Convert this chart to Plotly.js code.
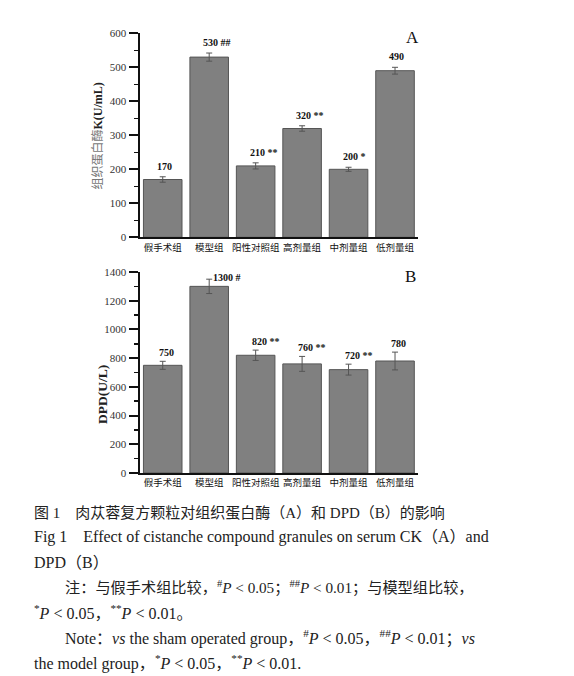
<!DOCTYPE html>
<html>
<head>
<meta charset="utf-8">
<script src="https://cdn.plot.ly/plotly-3.0.1.min.js"></script>
<style>html,body{margin:0;padding:0;background:#fff;}#chart{width:574px;height:676px;}</style>
</head>
<body>
<div id="chart"></div>
<script>
const categories = ['假手术组', '模型组', '阳性对照组', '高剂量组', '中剂量组', '低剂量组'];
const ckValues = [170, 530, 210, 320, 200, 490];
const ckErrors = [8, 12, 9, 8, 6, 10];
const ckSig = ['', '##', '**', '**', '*', ''];
const dpdValues = [750, 1300, 820, 760, 720, 780];
const dpdErrors = [28, 50, 36, 52, 38, 62];
const dpdSig = ['', '#', '**', '**', '**', ''];
const ckTicks = [0, 100, 200, 300, 400, 500, 600];
const dpdTicks = [0, 200, 400, 600, 800, 1000, 1200, 1400];

const W = 574, H = 676;
const px = v => v / W, py = v => 1 - v / H;

const barStyle = {color: '#808080', line: {color: '#555', width: 1}};
const errStyle = (arr) => ({type: 'data', array: arr, visible: true, color: '#555', thickness: 1, width: 3});

const traces = [
  {type: 'bar', x: categories, y: ckValues, xaxis: 'x', yaxis: 'y', marker: barStyle,
   error_y: errStyle(ckErrors), width: 0.83, hoverinfo: 'none'},
  {type: 'bar', x: categories, y: dpdValues, xaxis: 'x2', yaxis: 'y2', marker: barStyle,
   error_y: errStyle(dpdErrors), width: 0.83, hoverinfo: 'none'}
];

const serif = 'Liberation Serif, Noto Sans CJK SC, serif';
const tickFont = {family: serif, size: 11, color: '#333'};
const catFont = {family: 'Noto Sans CJK SC, Liberation Serif', size: 9.5, color: '#111'};

function xAx(anchor) {
  return {domain: [px(139.5), px(418.25)], anchor: anchor, range: [-0.5, 5.5],
    showline: true, linecolor: '#111', linewidth: 2, ticks: '', showgrid: false, tickangle: 0,
    tickfont: catFont, zeroline: false, fixedrange: true};
}
function yAx(anchor, dom, rng, vals, dt) {
  return {domain: dom, anchor: anchor, range: rng, tickvals: vals, ticktext: vals.map(String),
    showline: true, linecolor: '#111', linewidth: 2, ticks: 'outside', ticklen: 9, tickwidth: 2,
    tickcolor: '#111', showgrid: false, zeroline: false, tickfont: tickFont,
    minor: {dtick: dt, ticks: 'outside', ticklen: 4, tickwidth: 1.5, tickcolor: '#111', showgrid: false},
    fixedrange: true};
}

const annotations = [];
const labFont = {family: serif, size: 10, color: '#111', weight: 'bold'};
categories.forEach((c, i) => {
  annotations.push({xref: 'x', yref: 'y', x: c, y: ckValues[i] + ckErrors[i],
    text: '<b>' + ckValues[i] + (ckSig[i] ? ' ' + ckSig[i] : '') + '</b>',
    showarrow: false, xanchor: 'left', yanchor: 'bottom', xshift: -8, yshift: 3, font: labFont});
  annotations.push({xref: 'x2', yref: 'y2', x: c, y: dpdValues[i] + dpdErrors[i],
    text: '<b>' + dpdValues[i] + (dpdSig[i] ? ' ' + dpdSig[i] : '') + '</b>',
    showarrow: false, xanchor: 'left', yanchor: 'bottom', xshift: i === 1 ? 2 : -6, yshift: i === 1 ? -6 : 1, font: labFont});
});

// panel letters
annotations.push({xref: 'paper', yref: 'paper', x: px(412), y: py(37), text: 'A', showarrow: false,
  xanchor: 'center', yanchor: 'middle', font: {family: serif, size: 17, color: '#111'}});
annotations.push({xref: 'paper', yref: 'paper', x: px(410), y: py(277), text: 'B', showarrow: false,
  xanchor: 'center', yanchor: 'middle', font: {family: serif, size: 17, color: '#111'}});

// y titles
annotations.push({xref: 'paper', yref: 'paper', x: px(97), y: py(136.5), textangle: -90, showarrow: false,
  xanchor: 'center', yanchor: 'middle',
  text: '<span style="color:#777">组织蛋白酶</span><b>K(U/mL)</b>',
  font: {family: serif, size: 12, color: '#222'}});
annotations.push({xref: 'paper', yref: 'paper', x: px(102), y: py(395), textangle: -90, showarrow: false,
  xanchor: 'center', yanchor: 'middle', text: '<b>DPD(U/L)</b>',
  font: {family: serif, size: 13.5, color: '#222'}});

// caption lines
const lt = ' &lt; ';
const captionLines = [
  [32, 512, 15, '图 1　肉苁蓉复方颗粒对组织蛋白酶（A）和 DPD（B）的影响'],
  [32, 537, 16, 'Fig 1　Effect of cistanche compound granules on serum CK（A）and'],
  [32, 562, 16, 'DPD（B）'],
  [63, 587, 15.2, '注：与假手术组比较，<sup>#</sup><i>P</i>' + lt + '0.05；<sup>##</sup><i>P</i>' + lt + '0.01；与模型组比较，'],
  [32, 612, 16, '<sup>*</sup><i>P</i>' + lt + '0.05，<sup>**</sup><i>P</i>' + lt + '0.01。'],
  [63, 637, 16, 'Note：<i>vs</i> the sham operated group，<sup>#</sup><i>P</i>' + lt + '0.05，<sup>##</sup><i>P</i>' + lt + '0.01；<i>vs</i>'],
  [32, 662, 16, 'the model group，<sup>*</sup><i>P</i>' + lt + '0.05，<sup>**</sup><i>P</i>' + lt + '0.01.']
];
captionLines.forEach(([x, y, s, t]) => {
  annotations.push({xref: 'paper', yref: 'paper', x: px(x), y: py(y), text: t, showarrow: false,
    xanchor: 'left', yanchor: 'middle', font: {family: serif, size: s, color: '#222'}});
});

const layout = {
  width: W, height: H, margin: {l: 0, r: 0, t: 0, b: 0},
  paper_bgcolor: '#fff', plot_bgcolor: '#fff', showlegend: false, bargap: 0.17,
  xaxis: xAx('y'),
  yaxis: yAx('x', [py(237.3), py(33.3)], [0, 600], ckTicks, 50),
  xaxis2: xAx('y2'),
  yaxis2: yAx('x2', [py(473), py(272)], [0, 1400], dpdTicks, 100),
  annotations: annotations
};

Plotly.newPlot('chart', traces, layout, {displayModeBar: false, staticPlot: true});
</script>
</body>
</html>
